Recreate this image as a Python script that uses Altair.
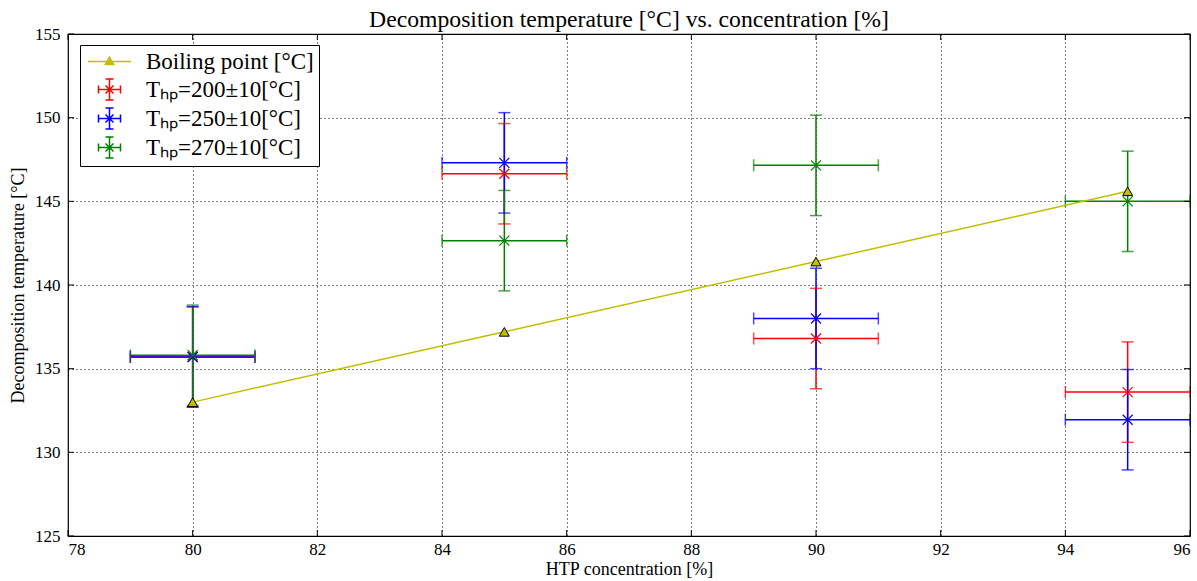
import altair as alt
import pandas as pd

# ---- data ----
conc = [80, 85, 90, 95]
boiling = [133.0, 137.2, 141.4, 145.6]
t200 = [135.7, 146.65, 136.8, 133.6]
t250 = [135.7, 147.3, 138.0, 131.95]
t270 = [135.8, 142.65, 147.15, 145.0]
yerr = 3.0
xerr = 1.0

names = ["Boiling point [°C]", "Tₕₚ=200±10[°C]", "Tₕₚ=250±10[°C]", "Tₕₚ=270±10[°C]"]
colors = ["#bfbf00", "#ff0000", "#0000ff", "#008000"]
x_ticks = [78, 80, 82, 84, 86, 88, 90, 92, 94, 96]
y_ticks = [125, 130, 135, 140, 145, 150, 155]

W, H = 1122, 502
FONT = "Liberation Serif"

# ---- tables built from the arrays ----
rows = []
for name, col, vals in zip(names[1:], colors[1:], [t200, t250, t270]):
    for c, v in zip(conc, vals):
        rows.append(dict(series=name, col=col, conc=c, temp=v,
                         ylo=v - yerr, yhi=v + yerr, xlo=c - xerr, xhi=c + xerr))
err = pd.DataFrame(rows)

vcaps = pd.concat([err.assign(capy=err["ylo"]), err.assign(capy=err["yhi"])])
hcaps = pd.concat([err.assign(capx=err["xlo"]), err.assign(capx=err["xhi"])])

boil = pd.DataFrame(dict(conc=conc, temp=boiling, series=names[0]))
legend_df = pd.concat([boil[["conc", "temp", "series"]], err[["conc", "temp", "series"]]])

xt = pd.DataFrame(dict(v=x_ticks))
yt = pd.DataFrame(dict(v=y_ticks))

xs = alt.Scale(domain=[78, 96], nice=False, zero=False)
ys = alt.Scale(domain=[125, 155], nice=False, zero=False)

X = lambda f: alt.X(f, type="quantitative", scale=xs,
                    axis=alt.Axis(values=x_ticks, format="d", title="HTP concentration [%]"))
Y = lambda f: alt.Y(f, type="quantitative", scale=ys,
                    axis=alt.Axis(values=y_ticks, format="d", title="Decomposition temperature [°C]"))
colN = alt.Color("col:N", scale=None)

# legend symbol paths (unit = 10 px at symbolSize 400)
cross_path = ("M-1.1,0L1.1,0M-1.1,-0.4L-1.1,0.4M1.1,-0.4L1.1,0.4"
              "M0,-1.05L0,1.05M-0.4,-1.05L0.4,-1.05M-0.4,1.05L0.4,1.05"
              "M-0.4,-0.4L0.4,0.4M-0.4,0.4L0.4,-0.4")
boil_path = "M-2.15,0L2.15,0M0,-0.45L0.42,0.3L-0.42,0.3Z"
x_marker = "M-1,-1L1,1M-1,1L1,-1"

leg = alt.Legend(orient="none", legendX=12, legendY=11,
                 symbolOpacity=1, symbolStrokeWidth=1.5, symbolSize=400,
                 labelFont=FONT, labelFontSize=23, labelLimit=0,
                 labelColor="black", labelOffset=25,
                 symbolOffset=13, rowPadding=2,
                 padding=5, strokeColor="black", fillColor="white",
                 cornerRadius=0)

legend_layer = alt.Chart(legend_df).mark_point(opacity=0, filled=True).encode(
    x=X("conc"), y=Y("temp"),
    stroke=alt.Stroke("series:N", scale=alt.Scale(domain=names, range=colors),
                      sort=names, title=None, legend=leg),
    fill=alt.Fill("series:N", scale=alt.Scale(domain=names, range=["#bfbf00"] * 4),
                  sort=names, title=None, legend=leg),
    shape=alt.Shape("series:N", scale=alt.Scale(domain=names,
                                                range=[boil_path, cross_path, cross_path, cross_path]),
                    sort=names, title=None, legend=leg),
)

vrules = alt.Chart(err).mark_rule(strokeWidth=1.5, clip=True).encode(
    x=X("conc"), y=Y("ylo"), y2="yhi", color=colN)
hrules = alt.Chart(err).mark_rule(strokeWidth=1.5, clip=True).encode(
    x=X("xlo"), x2="xhi", y=Y("temp"), color=colN)
vcap_marks = alt.Chart(vcaps).mark_tick(orient="horizontal", size=12, thickness=1.5, clip=True).encode(
    x=X("conc"), y=Y("capy"), color=colN)
hcap_marks = alt.Chart(hcaps).mark_tick(orient="vertical", size=12, thickness=1.5, clip=True).encode(
    x=X("capx"), y=Y("temp"), color=colN)
markers = alt.Chart(err).mark_point(shape=x_marker, size=100, strokeWidth=1.2, filled=False,
                                    opacity=1, clip=True).encode(
    x=X("conc"), y=Y("temp"), color=colN)

boil_line = alt.Chart(boil).mark_line(color="#bfbf00", strokeWidth=1.5).encode(
    x=X("conc"), y=Y("temp"))
boil_pts = alt.Chart(boil).mark_point(shape="triangle-up", filled=True, fill="#bfbf00",
                                      stroke="black", strokeWidth=1, size=100, opacity=1).encode(
    x=X("conc"), y=Y("temp"))

tk = dict(color="black", strokeWidth=1)
tick_bottom = alt.Chart(xt).mark_rule(**tk).encode(x=X("v"), y=alt.value(H), y2=alt.value(H - 6))
tick_top = alt.Chart(xt).mark_rule(**tk).encode(x=X("v"), y=alt.value(0), y2=alt.value(6))
tick_left = alt.Chart(yt).mark_rule(**tk).encode(y=Y("v"), x=alt.value(0), x2=alt.value(6))
tick_right = alt.Chart(yt).mark_rule(**tk).encode(y=Y("v"), x=alt.value(W), x2=alt.value(W - 6))

chart = alt.layer(
    legend_layer, vrules, hrules, vcap_marks, hcap_marks, markers,
    boil_line, boil_pts, tick_bottom, tick_top, tick_left, tick_right,
).properties(
    width=W, height=H,
    title=alt.TitleParams("Decomposition temperature [°C] vs. concentration [%]",
                          font=FONT, fontSize=23.7, fontWeight="normal", color="black",
                          anchor="middle", offset=-7),
    autosize=alt.AutoSizeParams(type="none"),
    padding={"left": 68, "top": 34, "right": 7, "bottom": 45},
).configure_view(
    stroke="black", strokeWidth=1.2
).configure_axis(
    domain=False, ticks=False, grid=True, gridColor="black", gridDash=[1, 3],
    gridOpacity=1, gridWidth=1,
    labelFont=FONT, labelFontSize=17, labelColor="black",
    titleFont=FONT, titleFontSize=18, titleColor="black", titleFontWeight="normal",
).configure_axisX(
    labelPadding=5, titlePadding=3
).configure_axisY(
    labelPadding=8, titlePadding=7
)

chart.save("out.html", embed_options={"renderer": "svg", "actions": False})
